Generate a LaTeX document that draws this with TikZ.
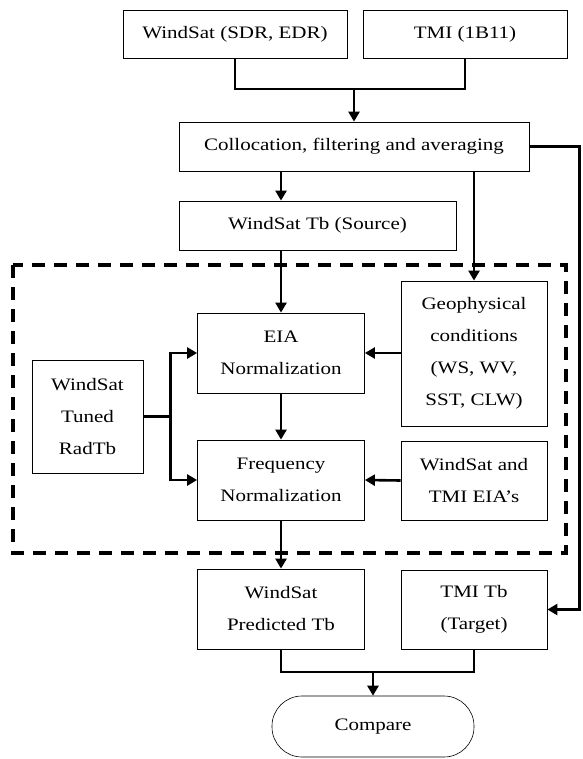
\documentclass[tikz,border=0pt]{standalone}
\usepackage{fontspec}
\setmainfont[FakeStretch=1.2]{Liberation Serif}
\usetikzlibrary{arrows.meta}

\begin{document}
\begin{tikzpicture}[x=1pt,y=-1pt,>={Triangle[length=10pt,width=11pt]},
        block/.style={draw,line width=.8pt,align=center,inner sep=0pt,font=\fontsize{17.5}{32}\selectfont},
        flow/.style={line width=2.6pt}]
    \useasboundingbox (0,0) rectangle (582,759);
    \draw[line width=3.6pt,dash pattern=on 13pt off 9pt] (13,265) rectangle (566,553);
    \node[block,minimum width=224pt,minimum height=48pt] (wsin) at (235,34) {WindSat (SDR, EDR)};
    \node[block,minimum width=204pt,minimum height=48pt] (tmiin) at (465,34) {TMI (1B11)};
    \node[block,minimum width=350pt,minimum height=49pt] (colloc) at (354,146.5) {Collocation, filtering and averaging};
    \node[block,minimum width=277pt,minimum height=49pt] (wstb) at (317.5,225.5) {WindSat Tb (Source)};
    \node[block,minimum width=146pt,minimum height=145pt] (geo) at (474,353.5) {Geophysical\\conditions\\(WS, WV,\\SST, CLW)};
    \node[block,minimum width=167pt,minimum height=80pt] (eia) at (281,353) {EIA\\Normalization};
    \node[block,minimum width=167pt,minimum height=80pt] (freq) at (281,480) {Frequency\\Normalization};
    \node[block,minimum width=111pt,minimum height=113pt] (tuned) at (87.5,416.5) {WindSat\\Tuned\\RadTb};
    \node[block,minimum width=146pt,minimum height=79pt] (eias) at (474,480.5) {WindSat and\\TMI EIA’s};
    \node[block,minimum width=167pt,minimum height=80pt] (pred) at (281,609) {WindSat\\Predicted Tb};
    \node[block,minimum width=146pt,minimum height=79pt] (tmitb) at (474,609.5) {TMI Tb\\(Target)};
    \node[block,line width=.6pt,rounded corners=30pt,minimum width=202pt,minimum height=61pt] (comp) at (373,726.5) {Compare};
    \coordinate (m1) at (354,89);
    \coordinate (m2) at (373,672);
    \draw[flow] (wsin.south) |- (m1) -| (tmiin.south);
    \draw[flow,->] (m1) -- (colloc.north);
    \draw[flow,->] (eia.north |- colloc.south) -- (eia.north |- wstb.north);
    \draw[flow,->] (wstb.south -| eia.north) -- (eia.north);
    \draw[flow,->] (geo.north |- colloc.south) -- (geo.north);
    \draw[flow,->] (colloc.east) -- ++(50,0) |- (tmitb.east);
    \draw[flow,->] (geo.west |- eia.east) -- (eia.east);
    \draw[flow,->] (eia.south) -- (freq.north);
    \draw[flow,->] (eias.west) -- (freq.east);
    \draw[flow] (tuned.east) -- ++(27,0) coordinate (br);
    \draw[flow,->] (br) |- (eia.west);
    \draw[flow,->] (br) |- (freq.west);
    \draw[flow,->] (freq.south) -- (pred.north);
    \draw[flow] (pred.south) |- (m2) -| (tmitb.south);
    \draw[flow,->] (m2) -- (comp.north);
\end{tikzpicture}
\end{document}
